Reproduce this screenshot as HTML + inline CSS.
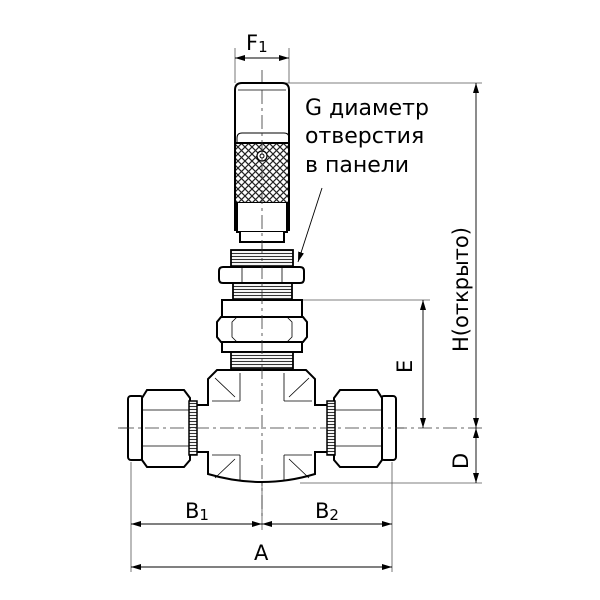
<!DOCTYPE html>
<html><head><meta charset="utf-8"><style>body{margin:0;background:#fff}svg{display:block}</style></head><body>
<svg width="600" height="600" viewBox="0 0 600 600" xmlns="http://www.w3.org/2000/svg">
<defs>
<marker id="a" viewBox="0 0 10 6" refX="10" refY="3" markerWidth="10" markerHeight="6" orient="auto-start-reverse" markerUnits="userSpaceOnUse"><path d="M0,0 L10,3 L0,6z" fill="#000"/></marker>
<pattern id="k" width="7" height="7" patternUnits="userSpaceOnUse"><rect width="7" height="7" fill="#fff"/><path d="M0,0L7,7M7,0L0,7" stroke="#222" stroke-width="1.2"/></pattern>
<pattern id="t" width="4" height="3" patternUnits="userSpaceOnUse"><rect width="4" height="3" fill="#fff"/><path d="M0,1.5H4" stroke="#333" stroke-width="1.1"/></pattern>
</defs>
<g fill="none" stroke="#000">
<g stroke="#555" stroke-width="0.8">
<line x1="235" y1="48" x2="235" y2="83"/><line x1="289" y1="48" x2="289" y2="83"/>
<line x1="275" y1="83" x2="482" y2="83"/>
<line x1="302" y1="300" x2="430" y2="300"/>
<line x1="300" y1="483" x2="482" y2="483"/>
<line x1="131" y1="462" x2="131" y2="572"/><line x1="392" y1="462" x2="392" y2="572"/>
<line x1="262" y1="480" x2="262" y2="530"/>
</g>
<g stroke="#333" stroke-width="0.8" stroke-dasharray="14,4,3,4">
<line x1="262" y1="70" x2="262" y2="520"/>
<line x1="118" y1="428" x2="482" y2="428"/>
</g>
<g stroke="#000" stroke-width="0.9">
<line x1="235" y1="58" x2="289" y2="58" marker-start="url(#a)" marker-end="url(#a)"/>
<line x1="476" y1="83" x2="476" y2="428" marker-start="url(#a)" marker-end="url(#a)"/>
<line x1="423" y1="300" x2="423" y2="428" marker-start="url(#a)" marker-end="url(#a)"/>
<line x1="476" y1="428" x2="476" y2="483" marker-start="url(#a)" marker-end="url(#a)"/>
<line x1="131" y1="524" x2="262" y2="524" marker-start="url(#a)" marker-end="url(#a)"/>
<line x1="262" y1="524" x2="392" y2="524" marker-start="url(#a)" marker-end="url(#a)"/>
<line x1="131" y1="567" x2="392" y2="567" marker-start="url(#a)" marker-end="url(#a)"/>
<line x1="322" y1="188" x2="298" y2="262" marker-end="url(#a)"/>
</g>
<g stroke-width="2">
<path d="M235,90 Q235,83 242,83 H282 Q289,83 289,90 V230 H235 Z" fill="#fff"/>
<rect x="235" y="143" width="54" height="60" fill="url(#k)"/>
<path d="M237,143 V138 Q237,133 242,133 H284 Q289,133 289,138 V143" stroke-width="1"/>
<path d="M237,203 V232 H287 V203" fill="#fff"/>
<path d="M240,232 V242 H284 V232" fill="#fff"/>
</g>
<line x1="238" y1="90" x2="286" y2="90" stroke-width="0.8"/>
<circle cx="262" cy="156" r="5" fill="#fff" stroke-width="1.2"/><circle cx="262" cy="156" r="2" stroke-width="1"/>
<rect x="231" y="250" width="62" height="17" fill="url(#t)" stroke-width="1.8"/>
<path d="M219,271 Q219,267 223,267 H300 Q304,267 304,271 V279 Q304,283 300,283 H223 Q219,283 219,279Z" fill="#fff" stroke-width="2"/>
<line x1="242" y1="267" x2="242" y2="283" stroke-width="0.8"/><line x1="282" y1="267" x2="282" y2="283" stroke-width="0.8"/>
<rect x="233" y="283" width="59" height="17" fill="url(#t)" stroke-width="1.8"/>
<rect x="222" y="300" width="80" height="17" fill="#fff" stroke-width="2"/>
<path d="M221,317 H303 L307,322 V337 L303,342 H221 L217,337 V322Z" fill="#fff" stroke-width="2"/>
<path d="M237,317 L232,322 V337 L237,342 M287,317 L292,322 V337 L287,342 M237,317 H287 M237,342 H287" stroke-width="0.8"/>
<rect x="222" y="342" width="80" height="10" fill="#fff" stroke-width="2"/>
<rect x="231" y="352" width="62" height="17" fill="url(#t)" stroke-width="1.8"/>
<path d="M217,370 H306 L315,379 V405 H330 V452 H315 V474 Q262,490 208,474 V452 H193 V405 H208 V379 Z" fill="#fff" stroke-width="2"/>
<path d="M240,373 V401 M284,373 V401 M240,455 V480 M284,455 V480 M212,401 H240 M284,401 H312 M212,455 H240 M284,455 H312" stroke-width="0.8"/>
<path d="M215,378 L235,397 M309,378 L289,397 M215,478 L235,459 M309,478 L289,459" stroke-width="0.8"/>
<rect x="128" y="396" width="15" height="64" rx="3" fill="#fff" stroke-width="2"/>
<path d="M147,390 H184 L190,398 V460 L184,467 H147 L142,460 V398Z" fill="#fff" stroke-width="2"/>
<path d="M142,410 H190 M142,446 H190" stroke-width="0.8"/>
<rect x="189" y="401" width="8" height="54" fill="url(#t)" stroke-width="1.5"/>
<rect x="381" y="396" width="15" height="64" rx="3" fill="#fff" stroke-width="2"/>
<path d="M377,390 H340 L334,398 V460 L340,467 H377 L382,460 V398Z" fill="#fff" stroke-width="2"/>
<path d="M334,410 H382 M334,446 H382" stroke-width="0.8"/>
<rect x="327" y="401" width="8" height="54" fill="url(#t)" stroke-width="1.5"/>
</g>
<line x1="262" y1="90" x2="262" y2="488" stroke="#333" stroke-width="0.8" stroke-dasharray="14,4,3,4"/>
<line x1="120" y1="428" x2="404" y2="428" stroke="#333" stroke-width="0.8" stroke-dasharray="14,4,3,4"/>
<g font-family="DejaVu Sans, Liberation Sans, sans-serif" fill="#000">
<text x="246" y="50" font-size="21">F<tspan font-size="15" dy="2">1</tspan></text>
<text x="305" y="115" font-size="22">G диаметр</text>
<text x="305" y="143" font-size="22">отверстия</text>
<text x="305" y="172" font-size="22">в панели</text>
<text font-size="21" transform="translate(468,352) rotate(-90)">H(открыто)</text>
<text font-size="21" transform="translate(412,373) rotate(-90)">E</text>
<text font-size="21" transform="translate(468,469) rotate(-90)">D</text>
<text x="185" y="518" font-size="21">B<tspan font-size="15" dy="2">1</tspan></text>
<text x="315" y="518" font-size="21">B<tspan font-size="15" dy="2">2</tspan></text>
<text x="254" y="560" font-size="21">A</text>
</g>
</svg>
</body></html>
